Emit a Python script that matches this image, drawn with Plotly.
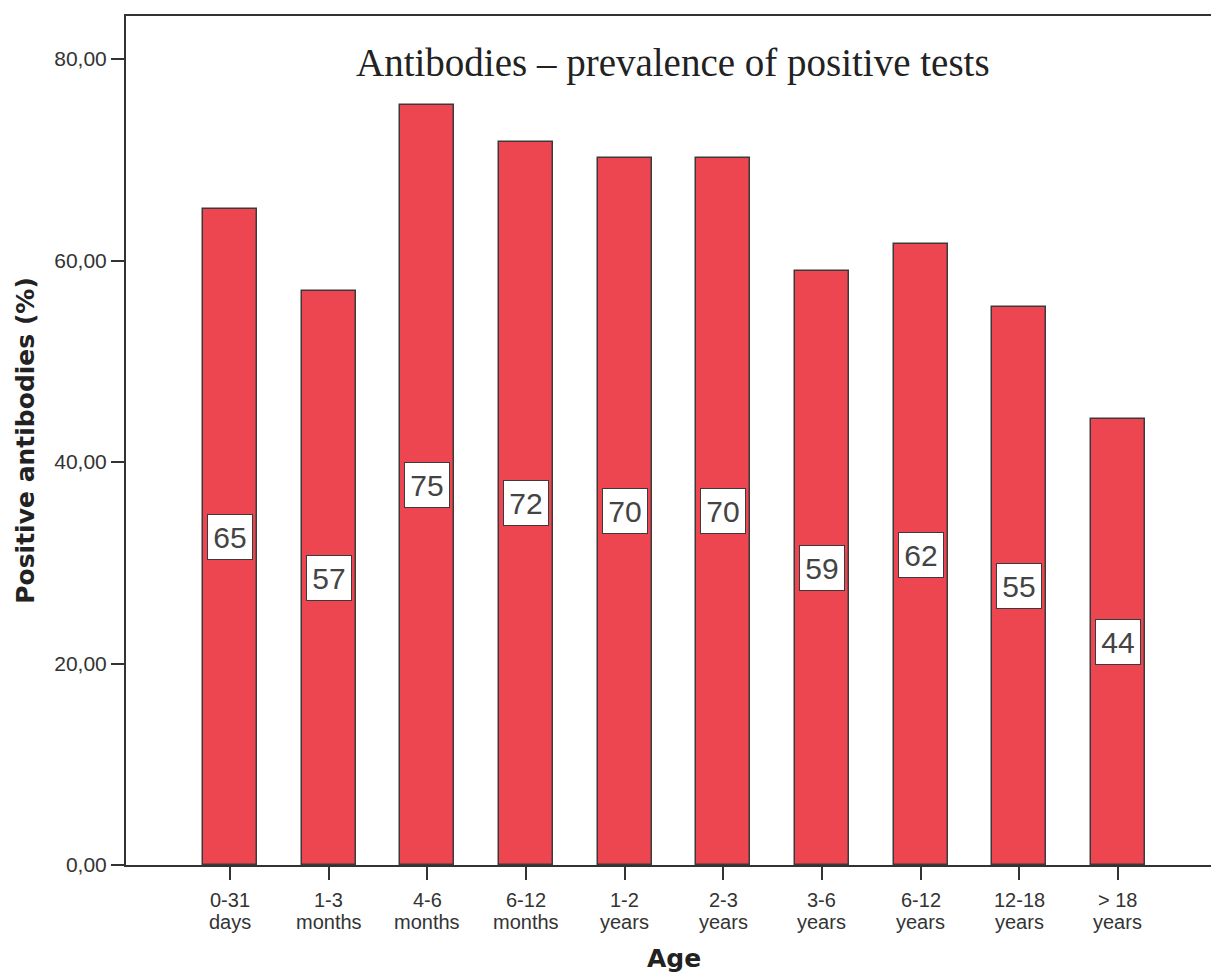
import plotly.graph_objects as go

# Age groups (label lines) and share of positive antibody tests (%)
age_line1 = ["0-31", "1-3", "4-6", "6-12", "1-2", "2-3", "3-6", "6-12", "12-18", "> 18"]
age_line2 = ["days", "months", "months", "months", "years", "years", "years", "years",
             "years", "years"]
positive_pct = [65.1, 57.0, 75.4, 71.8, 70.2, 70.2, 59.0, 61.6, 55.4, 44.3]
y_ticks = [0, 20, 40, 60, 80]

BAR_RED = "#EE4650"
INK = "#333333"
SANS = "Liberation Sans, Arial, sans-serif"

x_idx = list(range(len(age_line1)))

fig = go.Figure()
fig.add_trace(go.Bar(
    x=x_idx,
    y=positive_pct,
    width=0.55,
    marker=dict(color=BAR_RED, line=dict(color="#3a3a3a", width=1.5)),
    hoverinfo="skip",
    showlegend=False,
))

# Value boxes placed at the middle of each bar
for i, v in zip(x_idx, positive_pct):
    fig.add_annotation(
        x=i, y=v / 2, xref="x", yref="y",
        text=f"{round(v):d}", showarrow=False,
        font=dict(family=SANS, size=30, color="#444444"),
        bgcolor="white", bordercolor="#3a3a3a", borderwidth=1,
        width=44, height=44, borderpad=0,
        xanchor="center", yanchor="middle",
    )

# Two-line category labels under the ticks (tight line spacing)
for i, (l1, l2) in enumerate(zip(age_line1, age_line2)):
    for txt, shift in ((l1, -35), (l2, -57)):
        fig.add_annotation(
            x=i, y=0, xref="x", yref="paper",
            text=txt, showarrow=False,
            font=dict(family=SANS, size=20, color=INK),
            xanchor="center", yanchor="middle", yshift=shift,
        )

# Axis title for the categories
fig.add_annotation(
    x=0.5, y=0, xref="paper", yref="paper",
    text="<b>Age</b>", showarrow=False,
    font=dict(family="DejaVu Sans, sans-serif", size=25, color="#222222"),
    xanchor="center", yanchor="middle", yshift=-93, xshift=5,
)

# Chart heading inside the plot area
fig.add_annotation(
    x=0.5, y=0.945, xref="paper", yref="paper",
    text="Antibodies \u2013 prevalence of positive tests",
    showarrow=False,
    font=dict(family="Liberation Serif, Times New Roman, serif", size=39, color="#222222"),
    xanchor="center", yanchor="middle", xshift=4,
)

fig.update_layout(
    width=1211, height=976,
    margin=dict(l=126, r=0, t=16, b=111),
    paper_bgcolor="white", plot_bgcolor="white",
    separators=",.",
    bargap=0,
    font=dict(family=SANS, color=INK),
)

fig.update_xaxes(
    range=[-1.054, 9.943],
    tickmode="array", tickvals=x_idx, showticklabels=False,
    ticks="outside", ticklen=13, tickwidth=2, tickcolor=INK,
    showline=True, linecolor=INK, linewidth=2, mirror=True,
    showgrid=False, zeroline=False,
)
fig.update_yaxes(
    range=[0, 84.27],
    tickmode="array", tickvals=y_ticks, tickformat=".2f",
    tickfont=dict(family=SANS, size=21, color=INK),
    ticks="outside", ticklen=13, tickwidth=2, tickcolor=INK,
    showline=True, linecolor=INK, linewidth=2,
    showgrid=False, zeroline=False,
    title=dict(text="<b>Positive antibodies (%)</b>",
               font=dict(family="DejaVu Sans, sans-serif", size=25, color="#222222"),
               standoff=12),
)

fig.write_html("out.html")
